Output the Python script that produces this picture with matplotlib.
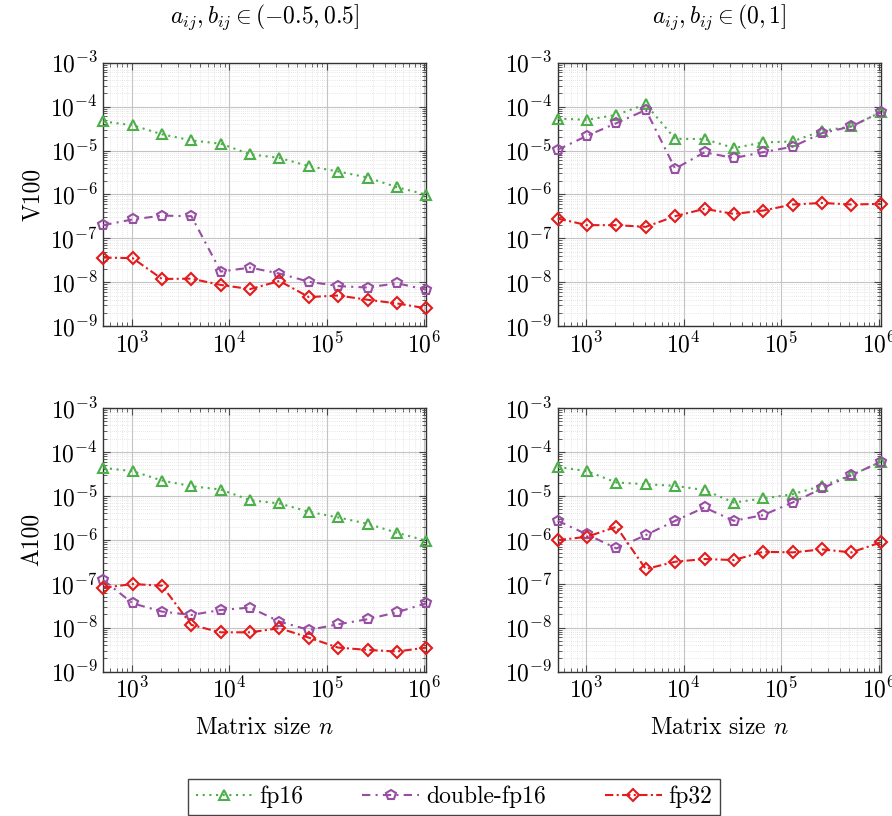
import numpy as np
import matplotlib
matplotlib.use("Agg")
import matplotlib.pyplot as plt
from matplotlib.ticker import LogLocator, NullFormatter, LogFormatterMathtext

plt.rcParams['font.family'] = ['cmr10', 'DejaVu Serif']
plt.rcParams['mathtext.fontset'] = 'cm'
plt.rcParams['axes.formatter.use_mathtext'] = True

# Matrix sizes n = 2^9 ... 2^20
n = [512, 1024, 2048, 4096, 8192, 16384, 32768, 65536, 131072, 262144, 524288, 1048576]

# V100, a,b in (-0.5, 0.5]
v100_sym_fp16 = [4.6e-5, 3.76e-5, 2.34e-5, 1.7e-5, 1.43e-5, 8.2e-6, 6.8e-6, 4.4e-6, 3.33e-6, 2.43e-6, 1.46e-6, 9.9e-7]
v100_sym_dfp16 = [2.0e-7, 2.7e-7, 3.3e-7, 3.2e-7, 1.75e-8, 2.16e-8, 1.58e-8, 1.03e-8, 8.2e-9, 7.6e-9, 9.5e-9, 6.8e-9]
v100_sym_fp32 = [3.66e-8, 3.54e-8, 1.19e-8, 1.21e-8, 8.7e-9, 7.0e-9, 1.07e-8, 4.6e-9, 5.0e-9, 4.0e-9, 3.3e-9, 2.55e-9]

# V100, a,b in (0, 1]
v100_pos_fp16 = [5.36e-5, 5.0e-5, 6.5e-5, 1.13e-4, 1.85e-5, 1.82e-5, 1.14e-5, 1.53e-5, 1.61e-5, 2.81e-5, 3.53e-5, 7.46e-5]
v100_pos_dfp16 = [1.04e-5, 2.17e-5, 4.2e-5, 8.4e-5, 3.87e-6, 9.1e-6, 6.75e-6, 9.2e-6, 1.22e-5, 2.49e-5, 3.53e-5, 7.46e-5]
v100_pos_fp32 = [2.83e-7, 2.0e-7, 2.0e-7, 1.83e-7, 3.2e-7, 4.7e-7, 3.6e-7, 4.3e-7, 5.9e-7, 6.4e-7, 5.9e-7, 6.1e-7]

# A100, a,b in (-0.5, 0.5]
a100_sym_fp16 = [4.33e-5, 3.64e-5, 2.23e-5, 1.66e-5, 1.39e-5, 7.97e-6, 6.7e-6, 4.33e-6, 3.22e-6, 2.31e-6, 1.44e-6, 9.5e-7]
a100_sym_dfp16 = [1.21e-7, 3.57e-8, 2.31e-8, 1.94e-8, 2.52e-8, 2.85e-8, 1.37e-8, 8.85e-9, 1.19e-8, 1.55e-8, 2.23e-8, 3.57e-8]
a100_sym_fp32 = [8.1e-8, 9.8e-8, 9.0e-8, 1.15e-8, 7.8e-9, 7.8e-9, 9.7e-9, 5.9e-9, 3.5e-9, 3.1e-9, 2.85e-9, 3.5e-9]

# A100, a,b in (0, 1]
a100_pos_fp16 = [4.56e-5, 3.64e-5, 2.01e-5, 1.84e-5, 1.69e-5, 1.35e-5, 7.05e-6, 8.7e-6, 1.09e-5, 1.69e-5, 2.95e-5, 5.93e-5]
a100_pos_dfp16 = [2.7e-6, 1.32e-6, 6.35e-7, 1.28e-6, 2.7e-6, 5.43e-6, 2.7e-6, 3.64e-6, 7.05e-6, 1.47e-5, 2.95e-5, 5.93e-5]
a100_pos_fp32 = [9.8e-7, 1.17e-6, 1.97e-6, 2.15e-7, 3.16e-7, 3.64e-7, 3.45e-7, 5.33e-7, 5.15e-7, 6.03e-7, 5.15e-7, 8.7e-7]

series_names = ["fp16", "double-fp16", "fp32"]
col_titles = [r"$a_{ij}, b_{ij} \in (-0.5, 0.5]$", r"$a_{ij}, b_{ij} \in (0, 1]$"]
row_labels = ["V100", "A100"]
xlabel = r"Matrix size $n$"

panels = [
    [(v100_sym_fp16, v100_sym_dfp16, v100_sym_fp32), (v100_pos_fp16, v100_pos_dfp16, v100_pos_fp32)],
    [(a100_sym_fp16, a100_sym_dfp16, a100_sym_fp32), (a100_pos_fp16, a100_pos_dfp16, a100_pos_fp32)],
]

colors = ["#4daf4a", "#984ea3", "#e41a1c"]
markers = ["^", "p", "D"]
msizes = [7.5, 7.5, 6.0]
linestyles = [(0, (1, 2.2)), (0, (4, 2.5, 1, 2.5)), (0, (4, 1.6, 1, 1.6))]

FS = 17

W, H = 892, 816
fig = plt.figure(figsize=(W / 100, H / 100), dpi=100)

lefts = [103.3, 557.7]
tops = [62.7, 408.0]
aw, ah = 323.0, 263.5

handles = None
for r in range(2):
    for c in range(2):
        ax = fig.add_axes([lefts[c] / W, 1 - (tops[r] + ah) / H, aw / W, ah / H])
        hs = []
        for k in range(3):
            h, = ax.plot(n, panels[r][c][k], color=colors[k], linestyle=linestyles[k],
                         lw=1.5, marker=markers[k], markersize=msizes[k],
                         markerfacecolor='none', markeredgewidth=1.5,
                         label=series_names[k], clip_on=False, zorder=3)
            hs.append(h)
        handles = hs
        ax.set_xscale('log')
        ax.set_yscale('log')
        ax.set_xlim(512, 1048576)
        ax.set_ylim(1e-9, 1e-3)
        ax.xaxis.set_major_locator(LogLocator(base=10, numticks=20))
        ax.yaxis.set_major_locator(LogLocator(base=10, numticks=20))
        ax.xaxis.set_minor_locator(LogLocator(base=10, subs=np.arange(2, 10), numticks=100))
        ax.yaxis.set_minor_locator(LogLocator(base=10, subs=np.arange(2, 10), numticks=100))
        ax.xaxis.set_minor_formatter(NullFormatter())
        ax.yaxis.set_minor_formatter(NullFormatter())
        ax.xaxis.set_major_formatter(LogFormatterMathtext())
        ax.yaxis.set_major_formatter(LogFormatterMathtext())
        ax.tick_params(which='both', direction='in', top=True, right=True, colors='#444444',
                       labelcolor='black', labelsize=FS)
        ax.tick_params(which='major', length=5, width=0.8)
        ax.tick_params(which='minor', length=3, width=0.6)
        ax.tick_params(axis='x', which='major', pad=4)
        ax.tick_params(axis='y', which='major', pad=4)
        ax.grid(True, which='major', color='#c4c4c4', lw=0.8, ls='-', zorder=0)
        ax.grid(True, which='minor', color='#d2d2d2', lw=0.5, ls=(0, (1, 2)), zorder=0)
        ax.set_axisbelow(True)
        for s in ax.spines.values():
            s.set_color('#333333')
            s.set_linewidth(1.0)

# column titles and x labels
for c in range(2):
    cx = (lefts[c] + aw / 2) / W
    fig.text(cx, 1 - 17 / H, col_titles[c], ha='center', va='center', fontsize=FS)
    fig.text(cx, 1 - 728 / H, xlabel, ha='center', va='center', fontsize=FS)

# row labels
for r in range(2):
    cy = 1 - (tops[r] + ah / 2) / H
    fig.text(33 / W, cy, row_labels[r], ha='center', va='center', rotation=90, fontsize=FS)

leg = fig.legend(handles, series_names, loc='center', bbox_to_anchor=(454 / W, 1 - 797 / H),
                 ncol=3, fontsize=FS, frameon=True, fancybox=False, edgecolor='#444444',
                 handlelength=2.4, handletextpad=0.3, columnspacing=2.5,
                 borderpad=0.3, framealpha=1)
leg.get_frame().set_linewidth(1.0)

fig.savefig("out.png", dpi=100)
